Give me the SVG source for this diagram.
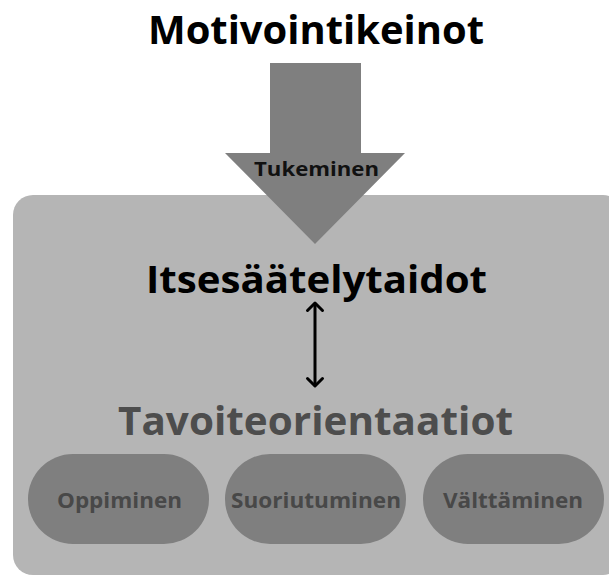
<svg xmlns="http://www.w3.org/2000/svg" width="609" height="576" viewBox="0 0 609 576">
  <style>
    text { font-family: "Open Sans", "Noto Sans", "DejaVu Sans", sans-serif; font-weight: bold; text-anchor: middle; }
    .pill { fill: #7f7f7f; }
    .pilltext { font-size: 21px; fill: #484848; }
  </style>
  <defs>
    <marker id="ah" viewBox="0 0 20 20" refX="17" refY="10" markerWidth="20" markerHeight="20" orient="auto-start-reverse" markerUnits="userSpaceOnUse">
      <path d="M9.5,2.5 L17,10 L9.5,17.5" fill="none" stroke="#000" stroke-width="3" stroke-linecap="round" stroke-linejoin="round"/>
    </marker>
  </defs>
  <rect width="609" height="576" fill="#ffffff"/>
  <g id="title">
    <text x="316" y="44" font-size="40" fill="#000" textLength="336" lengthAdjust="spacingAndGlyphs">Motivointikeinot</text>
  </g>
  <g id="container">
    <rect x="13" y="195" width="610" height="380" rx="20" ry="20" fill="#b5b5b5"/>
  </g>
  <g id="support-arrow">
    <polygon points="270,63 361,63 361,153 405,153 315,244 225,153 270,153" fill="#7f7f7f"/>
    <text x="316.5" y="176" font-size="20" fill="#111" textLength="125" lengthAdjust="spacingAndGlyphs">Tukeminen</text>
  </g>
  <g id="itsesaately">
    <text x="316.5" y="293" font-size="38" fill="#000" textLength="341" lengthAdjust="spacingAndGlyphs">Itsesäätelytaidot</text>
  </g>
  <g id="connectors">
    <line x1="315" y1="303" x2="315" y2="386" stroke="#000" stroke-width="3" marker-start="url(#ah)" marker-end="url(#ah)"/>
  </g>
  <g id="tavoite">
    <text x="315.5" y="435" font-size="39" fill="#4d4d4d" textLength="395" lengthAdjust="spacingAndGlyphs">Tavoiteorientaatiot</text>
  </g>
  <g id="oppiminen">
    <rect class="pill" x="28" y="454" width="181" height="90" rx="45" ry="45"/>
    <text class="pilltext" x="119.5" y="508" textLength="125" lengthAdjust="spacingAndGlyphs">Oppiminen</text>
  </g>
  <g id="suoriutuminen">
    <rect class="pill" x="225" y="454" width="181" height="90" rx="45" ry="45"/>
    <text class="pilltext" x="316" y="508" textLength="170" lengthAdjust="spacingAndGlyphs">Suoriutuminen</text>
  </g>
  <g id="valttaminen">
    <rect class="pill" x="423" y="454" width="181" height="90" rx="45" ry="45"/>
    <text class="pilltext" x="513" y="508" textLength="140" lengthAdjust="spacingAndGlyphs">Välttäminen</text>
  </g>
</svg>
